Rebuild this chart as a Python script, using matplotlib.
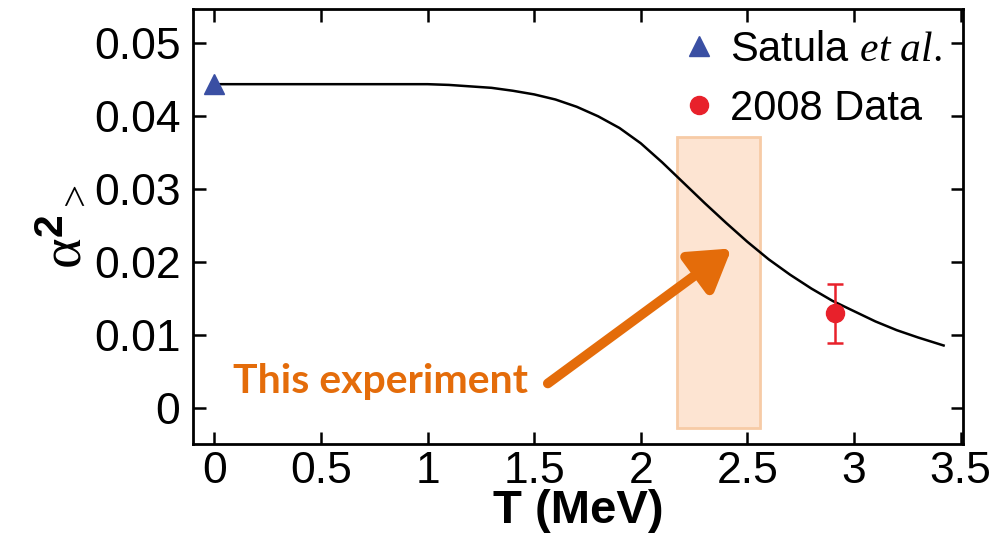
import matplotlib
matplotlib.use("Agg")
import matplotlib.pyplot as plt
from matplotlib.patches import Rectangle
from matplotlib.lines import Line2D

plt.rcParams['font.family'] = ['Liberation Sans', 'DejaVu Sans']
plt.rcParams['mathtext.fontset'] = 'custom'
plt.rcParams['mathtext.it'] = 'Liberation Serif:italic'
plt.rcParams['mathtext.rm'] = 'Liberation Serif'
plt.rcParams['mathtext.bf'] = 'Liberation Sans:bold'

# model curve, alpha^2 vs temperature
T_curve = [0.0, 0.5, 1.0, 1.1, 1.2, 1.3, 1.4, 1.5, 1.6, 1.7, 1.8, 1.9, 2.0,
           2.1, 2.2, 2.3, 2.4, 2.5, 2.6, 2.7, 2.8, 2.9, 3.0, 3.1, 3.2, 3.3, 3.42]
a2_curve = [0.0444, 0.0444, 0.0444, 0.0443, 0.0441, 0.0439, 0.0435, 0.0430,
            0.0423, 0.0413, 0.0400, 0.0384, 0.0363, 0.0337, 0.0309, 0.0281,
            0.0254, 0.0228, 0.0204, 0.0183, 0.0164, 0.0147, 0.0133, 0.0119,
            0.0107, 0.0097, 0.0086]

# Satula et al. point
T_satula = [0.0]
a2_satula = [0.0444]

# 2008 data
T_2008 = [2.91]
a2_2008 = [0.0130]
a2_2008_lo = [0.0040]
a2_2008_hi = [0.0040]

# range covered by this experiment
exp_T = (2.17, 2.56)
exp_a2 = (-0.0027, 0.0371)

blue = '#3a4fa3'
red = '#e8212b'
orange = '#e46c0a'

fig = plt.figure(figsize=(10.05, 5.36), dpi=100)
ax = fig.add_axes([0.192, 0.1716, 0.766, 0.8116])

ax.add_patch(Rectangle((exp_T[0], exp_a2[0]), exp_T[1] - exp_T[0], exp_a2[1] - exp_a2[0],
                       facecolor='#fde4d2', edgecolor='#f7cba6', lw=2, zorder=1))

ax.plot(T_curve, a2_curve, color='black', lw=1.8, zorder=2)
ax.plot(T_satula, a2_satula, '^', color=blue, ms=15, zorder=3)
ax.errorbar(T_2008, a2_2008, yerr=[a2_2008_lo, a2_2008_hi], fmt='o', color=red,
            ms=13, elinewidth=1.8, capsize=6, capthick=1.8, zorder=4)

ax.annotate('', xy=(2.426, 0.0219), xytext=(1.564, 0.0034),
            arrowprops=dict(arrowstyle='-|>,head_length=0.8,head_width=0.5',
                            color=orange, lw=7, mutation_scale=30, shrinkA=0, shrinkB=0),
            zorder=5)
ax.text(0.089, 0.0036, 'This experiment', color=orange, fontsize=29.5,
        fontweight='bold', family=['Lato', 'DejaVu Sans'], ha='left', va='center')

ax.set_xlim(-0.1, 3.51)
ax.set_ylim(-0.0049, 0.0547)
ax.set_xticks([0, 0.5, 1, 1.5, 2, 2.5, 3, 3.5])
ax.set_xticklabels(['0', '0.5', '1', '1.5', '2', '2.5', '3', '3.5'])
ax.set_yticks([0, 0.01, 0.02, 0.03, 0.04, 0.05])
ax.set_yticklabels(['0', '0.01', '0.02', '0.03', '0.04', '0.05'])
ax.tick_params(direction='in', length=9, width=1.8, labelsize=32,
               top=True, right=True, pad=5)
ax.tick_params(axis='y', pad=9)
for s in ax.spines.values():
    s.set_linewidth(2)

ax.set_xlabel('T (MeV)', fontsize=34, fontweight='bold', labelpad=-2)
ax.set_ylabel(r'$\mathrm{\alpha}^{\mathbf{2}}{}_{>}$', fontsize=42, labelpad=2)

handles = [Line2D([], [], ls='none', marker='^', color=blue, ms=15),
           Line2D([], [], ls='none', marker='o', color=red, ms=13)]
ax.legend(handles, [r'Satula $et\ al.$', '2008 Data'], loc='upper right',
          frameon=False, fontsize=30, handletextpad=0.3, borderaxespad=0.1,
          labelspacing=0.45, handlelength=0.9)

fig.savefig('out.png', dpi=100)
